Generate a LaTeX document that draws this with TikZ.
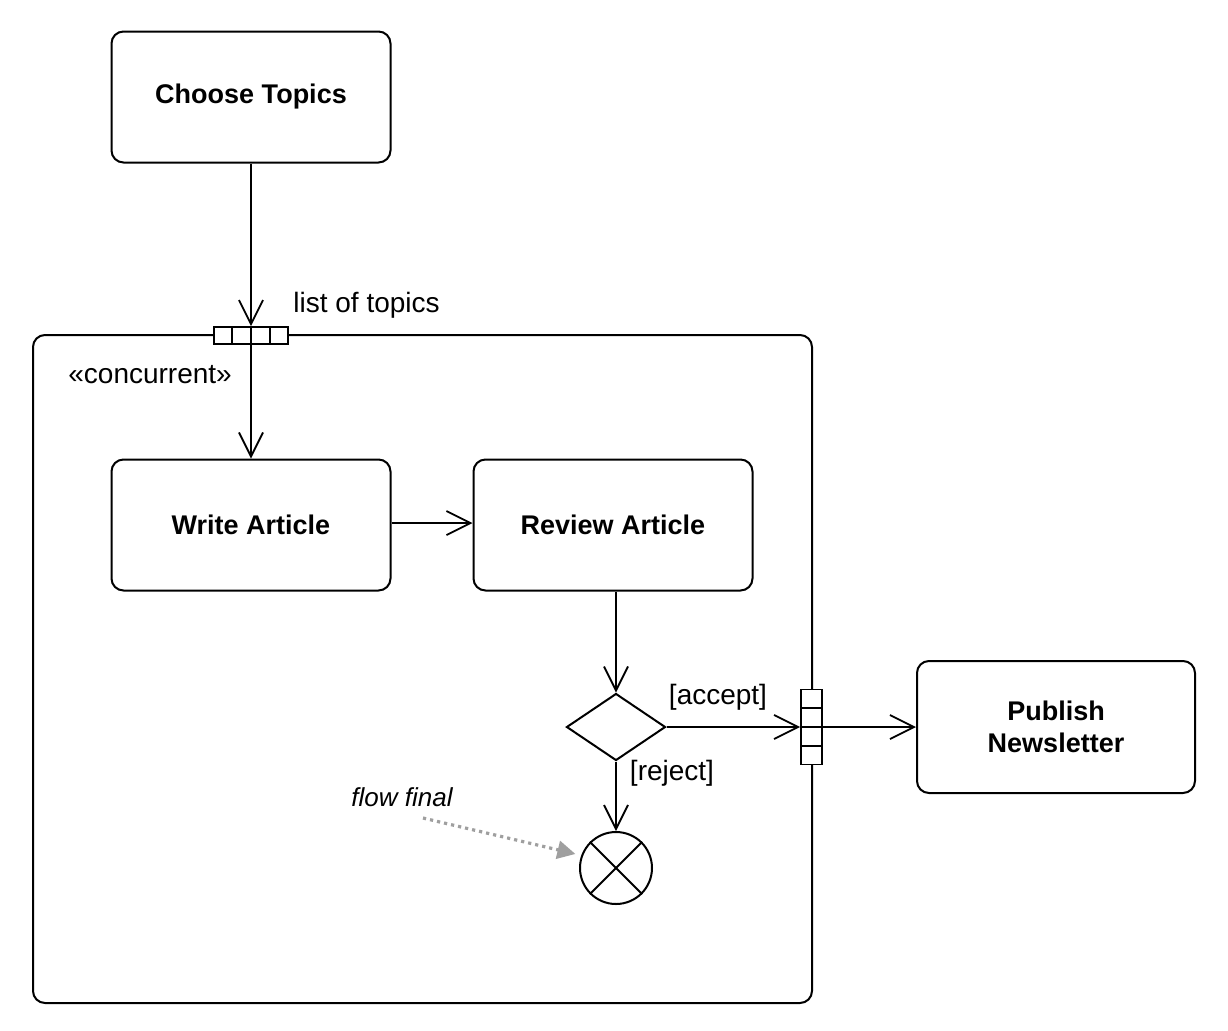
\documentclass[tikz,border=0pt]{standalone}
\usepackage{fontspec}
\setmainfont{Liberation Sans}
\usetikzlibrary{arrows.meta,shapes.geometric,calc}
\begin{document}
\begin{tikzpicture}[x=0.5pt,y=-0.5pt,
  action/.style={draw, line width=1pt, rounded corners=6pt, minimum width=139.5pt, minimum height=65.5pt, align=center, font=\fontsize{13.5}{16}\selectfont\bfseries, inner sep=0pt},
  flow/.style={line width=0.9pt, -{Straight Barb[length=12pt,width=12pt,line width=0.9pt]}},
  plain/.style={line width=0.9pt},
  lbl/.style={font=\fontsize{14}{16}\selectfont, inner sep=0pt},
  pinbox/.style={draw, line width=0.9pt, fill=white, inner sep=0pt},
  note/.style={draw=gray!75, line width=1.6pt, dash pattern=on 1.6pt off 2pt, -{Triangle[length=9pt,width=9pt,color=gray!75,fill=gray!75]}}]
\useasboundingbox (0,0) rectangle (1228,1030);
% region
\node[draw, line width=1pt, rounded corners=6pt, minimum width=389.5pt, minimum height=334pt, inner sep=0pt] (region) at (422.5,669) {};
% actions
\node[action] (choose) at (251,97) {Choose Topics};
\node[action] (write) at (251,525) {Write Article};
\node[action] (review) at (613,525) {Review Article};
\node[action, minimum width=139pt, minimum height=66pt] (publish) at (1056,727) {Publish\\Newsletter};
% pins
\node[pinbox, minimum width=37pt, minimum height=8.5pt] (pinA) at (251,335.5) {};
\draw[plain] ($(pinA.north west)!0.25!(pinA.north east)$) -- ($(pinA.south west)!0.25!(pinA.south east)$);
\draw[plain] ($(pinA.north west)!0.75!(pinA.north east)$) -- ($(pinA.south west)!0.75!(pinA.south east)$);
\node[pinbox, minimum width=10.5pt, minimum height=37.5pt] (pinB) at (811.5,727) {};
\draw[plain] ($(pinB.north west)!0.25!(pinB.south west)$) -- ($(pinB.north east)!0.25!(pinB.south east)$);
\draw[plain] ($(pinB.north west)!0.75!(pinB.south west)$) -- ($(pinB.north east)!0.75!(pinB.south east)$);
% decision and flow final
\node[draw, diamond, line width=1pt, minimum width=49.5pt, minimum height=33.5pt, inner sep=0pt] (dec) at (616,727) {};
\node[draw, circle, line width=1pt, minimum size=36pt, inner sep=0pt] (ff) at (616,868) {};
\draw[plain] (ff.north west) -- (ff.south east);
\draw[plain] (ff.north east) -- (ff.south west);
% flows
\draw[flow] (choose.south) -- (pinA.north);
\draw[flow] (pinA.north) -- (write.north);
\draw[flow] (write.east |- 0,523) -- (review.west |- 0,523);
\draw[flow] (review.south -| dec.north) -- (dec.north);
\draw[flow] (dec.east) -- (pinB.west);
\draw[flow] (pinB.west) -- (publish.west);
\draw[flow] (dec.south) -- (ff.north);
% labels
\node[lbl, anchor=west] (lt) at (293,305) {list of topics};
\node[lbl, anchor=west] (cc) at (68,375) {«concurrent»};
\node[lbl] (acc) at (718,697) {[accept]};
\node[lbl] (rej) at (672,773) {[reject]};
\node[lbl, font=\fontsize{13}{15}\selectfont\itshape] (flt) at (402,797) {flow final};
\coordinate (fls) at (423,818);
\draw[note, shorten >=3pt] (fls) -- (ff.160);
\end{tikzpicture}
\end{document}
